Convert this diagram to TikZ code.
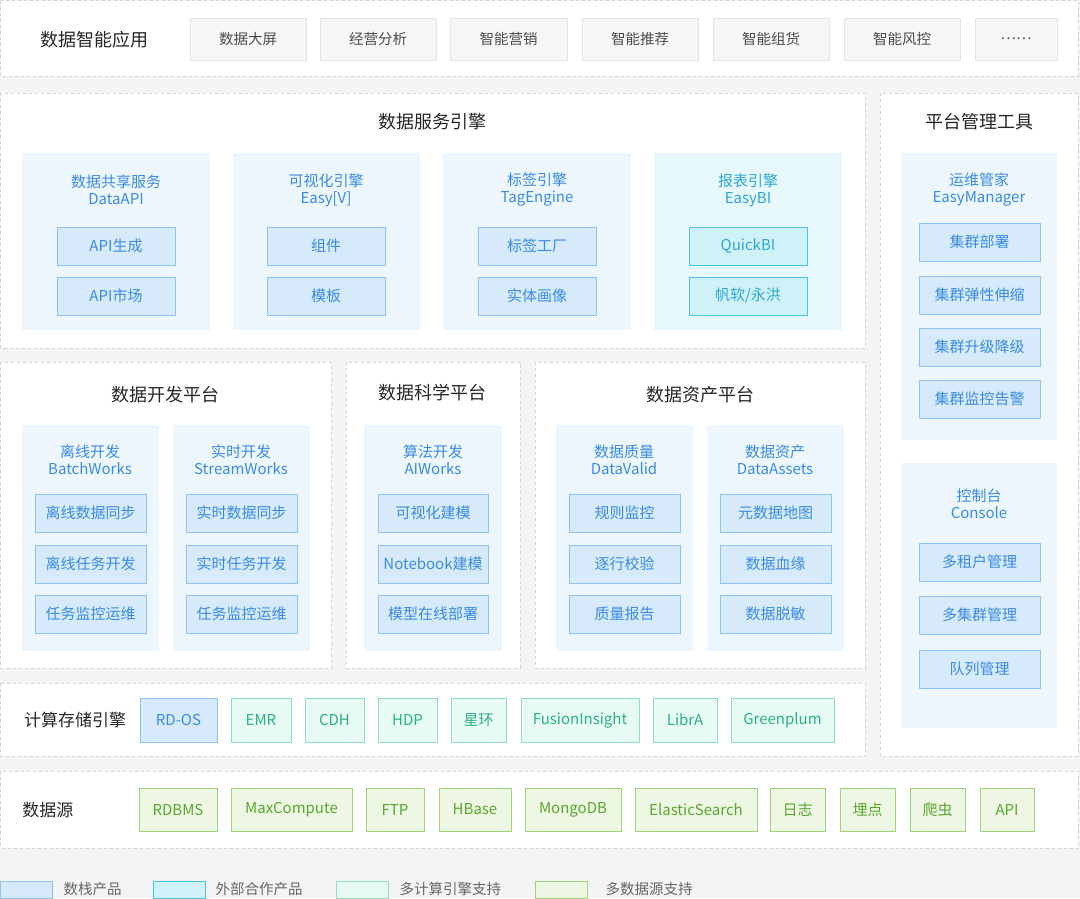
\documentclass[tikz,border=0pt]{standalone}
\usepackage{fontspec}
\setmainfont{Noto Sans CJK SC}
\usetikzlibrary{calc}
\definecolor{bg}{HTML}{F3F4F6}
\definecolor{dash}{HTML}{D0D3D8}
\definecolor{gfill}{HTML}{F6F6F6}\definecolor{gline}{HTML}{E4E4E4}
\definecolor{sbfill}{HTML}{EEF6FD}\definecolor{scfill}{HTML}{E6F8FC}
\definecolor{bfill}{HTML}{D6EAFB}\definecolor{bline}{HTML}{8EC3EE}\definecolor{btext}{HTML}{3A8BE0}
\definecolor{cfill}{HTML}{CFF2FA}\definecolor{cline}{HTML}{4CC4E0}\definecolor{ctext}{HTML}{2FA6D2}
\definecolor{efill}{HTML}{E7FAF3}\definecolor{eline}{HTML}{8FDFC0}\definecolor{etext}{HTML}{2DB088}
\definecolor{dfill}{HTML}{EEF7E3}\definecolor{dline}{HTML}{9DD47A}\definecolor{dtext}{HTML}{5AA630}
\tikzset{
 panel/.style={draw=dash,dashed,fill=white,line width=0.8pt},
 appbox/.style={draw=gline,fill=gfill,text=black!70,font=\fontsize{14.5}{16}\selectfont},
 sbox/.style={fill=sbfill},
 cbox/.style={fill=scfill},
 bitem/.style={draw=bline,fill=bfill,text=btext,font=\fontsize{15}{16}\selectfont},
 citem/.style={draw=cline,fill=cfill,text=ctext,font=\fontsize{15}{16}\selectfont},
 eitem/.style={draw=eline,fill=efill,text=etext,font=\fontsize{15}{16}\selectfont},
 ditem/.style={draw=dline,fill=dfill,text=dtext,font=\fontsize{15}{16}\selectfont},
 ptitle/.style={text=black!85,font=\fontsize{18}{20}\selectfont},
 stitle/.style={text=btext,align=center,font=\fontsize{15}{17}\selectfont},
 ctitle/.style={text=ctext,align=center,font=\fontsize{15}{17}\selectfont},
 legtext/.style={text=black!60,font=\fontsize{14.5}{16}\selectfont,anchor=west}
}
\newcommand{\bx}[7]{\node[#6,inner sep=0pt,minimum width={(#4-#2)*1pt},minimum height={(#5-#3)*1pt}] (#1) at ({(#2+#4)/2},{(#3+#5)/2}) {#7};}
\newcommand{\pn}[6]{\path[#6] (#2,#3) rectangle (#4,#5) coordinate (#1);}
\begin{document}
\begin{tikzpicture}[x=1pt,y=-1pt]
\fill[bg] (0,0) rectangle (1080,898);
\useasboundingbox (0,0) rectangle (1080,898);
% app layer
\pn{p1}{0.5}{0.5}{1078}{76}{panel}
\node[ptitle] (t1) at (95,40) {数据智能应用};
\bx{a1}{190}{18}{306}{60}{appbox}{数据大屏}
\bx{a2}{320}{18}{436}{60}{appbox}{经营分析}
\bx{a3}{450}{18}{567}{60}{appbox}{智能营销}
\bx{a4}{582}{18}{698}{60}{appbox}{智能推荐}
\bx{a5}{713}{18}{829}{60}{appbox}{智能组货}
\bx{a6}{844}{18}{960}{60}{appbox}{智能风控}
\bx{a7}{975}{18}{1057}{60}{appbox}{……}
% service engine
\pn{p2}{0.5}{93}{865}{348}{panel}
\node[ptitle] (t2) at (432,122) {数据服务引擎};
\pn{s1}{22}{153}{210}{330}{sbox}
\pn{s2}{233}{153}{420}{330}{sbox}
\pn{s3}{443}{153}{631}{330}{sbox}
\pn{s4}{654}{153}{842}{330}{cbox}
\node[stitle] (st1) at (116,190) {数据共享服务\\DataAPI};
\node[stitle] (st2) at (326,190) {可视化引擎\\Easy[V]};
\node[stitle] (st3) at (537,190) {标签引擎\\TagEngine};
\node[ctitle] (st4) at (748,190) {报表引擎\\EasyBI};
\bx{i11}{57}{227}{175}{265}{bitem}{API生成}
\bx{i12}{57}{277}{175}{315}{bitem}{API市场}
\bx{i21}{267}{227}{385}{265}{bitem}{组件}
\bx{i22}{267}{277}{385}{315}{bitem}{模板}
\bx{i31}{478}{227}{596}{265}{bitem}{标签工厂}
\bx{i32}{478}{277}{596}{315}{bitem}{实体画像}
\bx{i41}{689}{227}{807}{265}{citem}{QuickBI}
\bx{i42}{689}{277}{807}{315}{citem}{帆软/永洪}
% platform mgmt
\pn{p3}{880}{93}{1078}{756}{panel}
\node[ptitle] (t3) at (979,122) {平台管理工具};
\pn{s5}{901}{153}{1057}{440}{sbox}
\pn{s6}{901}{463}{1057}{728}{sbox}
\node[stitle] (st5) at (979,190) {运维管家\\EasyManager};
\node[stitle] (st6) at (979,504) {控制台\\Console};
\bx{m1}{919}{223}{1040}{261}{bitem}{集群部署}
\bx{m2}{919}{276}{1040}{314}{bitem}{集群弹性伸缩}
\bx{m3}{919}{328}{1040}{366}{bitem}{集群升级降级}
\bx{m4}{919}{380}{1040}{418}{bitem}{集群监控告警}
\bx{m5}{919}{543}{1040}{581}{bitem}{多租户管理}
\bx{m6}{919}{596}{1040}{634}{bitem}{多集群管理}
\bx{m7}{919}{650}{1040}{688}{bitem}{队列管理}
% dev platform
\pn{p4}{0.5}{362}{331}{668}{panel}
\node[ptitle] (t4) at (165,395) {数据开发平台};
\pn{s7}{22}{425}{159}{651}{sbox}
\pn{s8}{173}{425}{310}{651}{sbox}
\node[stitle] (st7) at (90,460) {离线开发\\BatchWorks};
\node[stitle] (st8) at (241,460) {实时开发\\StreamWorks};
\bx{d11}{35}{494}{146}{532}{bitem}{离线数据同步}
\bx{d12}{35}{545}{146}{583}{bitem}{离线任务开发}
\bx{d13}{35}{595}{146}{633}{bitem}{任务监控运维}
\bx{d21}{186}{494}{297}{532}{bitem}{实时数据同步}
\bx{d22}{186}{545}{297}{583}{bitem}{实时任务开发}
\bx{d23}{186}{595}{297}{633}{bitem}{任务监控运维}
% science
\pn{p5}{346}{362}{520}{668}{panel}
\node[ptitle] (t5) at (432,393) {数据科学平台};
\pn{s9}{364}{425}{502}{651}{sbox}
\node[stitle] (st9) at (433,460) {算法开发\\AIWorks};
\bx{k1}{378}{494}{488}{532}{bitem}{可视化建模}
\bx{k2}{378}{545}{488}{583}{bitem}{Notebook建模}
\bx{k3}{378}{595}{488}{633}{bitem}{模型在线部署}
% asset
\pn{p6}{535}{362}{865}{668}{panel}
\node[ptitle] (t6) at (700,395) {数据资产平台};
\pn{s10}{556}{425}{693}{651}{sbox}
\pn{s11}{707}{425}{844}{651}{sbox}
\node[stitle] (st10) at (624,460) {数据质量\\DataValid};
\node[stitle] (st11) at (775,460) {数据资产\\DataAssets};
\bx{q11}{569}{494}{680}{532}{bitem}{规则监控}
\bx{q12}{569}{545}{680}{583}{bitem}{逐行校验}
\bx{q13}{569}{595}{680}{633}{bitem}{质量报告}
\bx{q21}{720}{494}{831}{532}{bitem}{元数据地图}
\bx{q22}{720}{545}{831}{583}{bitem}{数据血缘}
\bx{q23}{720}{595}{831}{633}{bitem}{数据脱敏}
% compute storage
\pn{p7}{0.5}{683}{865}{756}{panel}
\node[ptitle,font=\fontsize{17}{20}\selectfont] (t7) at (75,720) {计算存储引擎};
\bx{e1}{140}{698}{217}{742}{bitem}{RD-OS}
\bx{e2}{231}{698}{291}{742}{eitem}{EMR}
\bx{e3}{305}{698}{364}{742}{eitem}{CDH}
\bx{e4}{378}{698}{437}{742}{eitem}{HDP}
\bx{e5}{451}{698}{506}{742}{eitem}{星环}
\bx{e6}{521}{698}{639}{742}{eitem}{FusionInsight}
\bx{e7}{653}{698}{717}{742}{eitem}{LibrA}
\bx{e8}{731}{698}{834}{742}{eitem}{Greenplum}
% data source
\pn{p8}{0.5}{771}{1078}{848}{panel}
\node[ptitle,font=\fontsize{17}{20}\selectfont] (t8) at (48,810) {数据源};
\bx{r1}{139}{788}{217}{831}{ditem}{RDBMS}
\bx{r2}{231}{788}{352}{831}{ditem}{MaxCompute}
\bx{r3}{366}{788}{424}{831}{ditem}{FTP}
\bx{r4}{439}{788}{511}{831}{ditem}{HBase}
\bx{r5}{525}{788}{621}{831}{ditem}{MongoDB}
\bx{r6}{635}{788}{757}{831}{ditem}{ElasticSearch}
\bx{r7}{770}{788}{825}{831}{ditem}{日志}
\bx{r8}{840}{788}{895}{831}{ditem}{埋点}
\bx{r9}{910}{788}{965}{831}{ditem}{爬虫}
\bx{r10}{980}{788}{1034}{831}{ditem}{API}
% legend
\bx{l1}{0.5}{881}{52}{898}{bitem}{}
\node[legtext] (lt1) at (60,889) {数栈产品};
\bx{l2}{153}{881}{205}{898}{citem}{}
\node[legtext] (lt2) at (212,889) {外部合作产品};
\bx{l3}{336}{881}{388}{898}{eitem}{}
\node[legtext] (lt3) at (396,889) {多计算引擎支持};
\bx{l4}{535}{881}{587}{898}{ditem}{}
\node[legtext] (lt4) at (602,889) {多数据源支持};
\end{tikzpicture}
\end{document}
